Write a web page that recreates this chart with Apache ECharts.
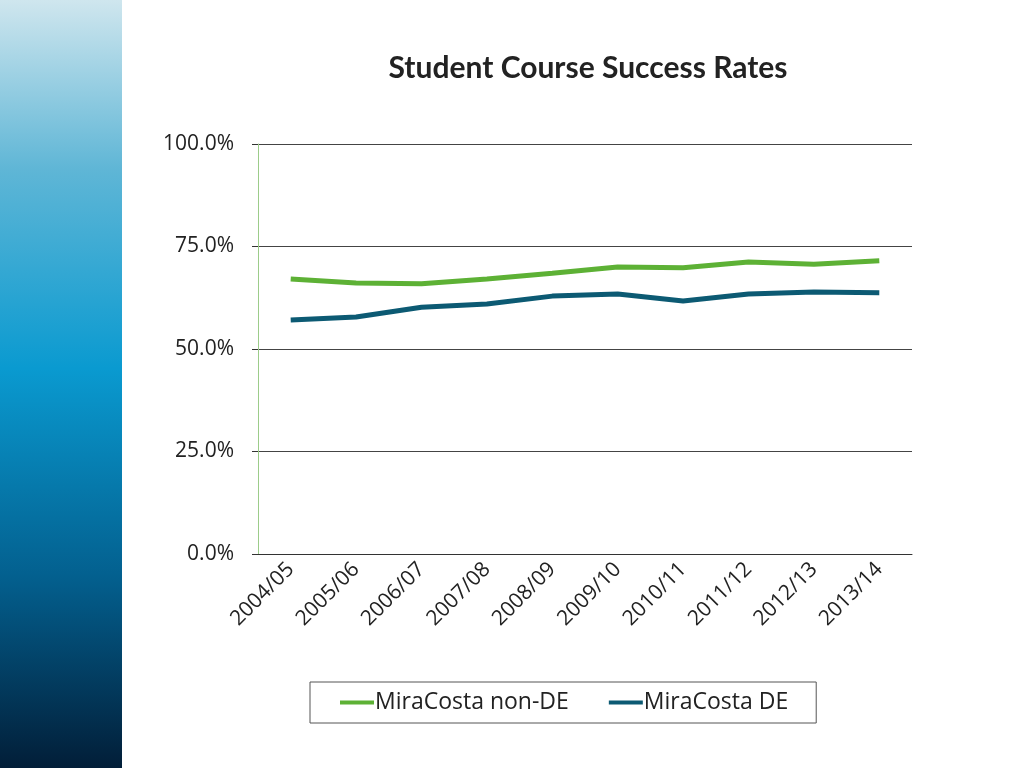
<!DOCTYPE html>
<html><head><meta charset="utf-8">
<script src="https://cdn.jsdelivr.net/npm/echarts@6/dist/echarts.min.js"></script>
<style>html,body{margin:0;padding:0;background:#fff}
#side{position:absolute;left:0;top:0;width:122px;height:768px;background:linear-gradient(#cfe6ee 0%,#5fb6d6 22%,#0a9ad0 48%,#03608f 75%,#021e38 100%)}
#c{position:absolute;left:0;top:0;width:1024px;height:768px}</style>
</head><body><div id="side"></div><div id="c"></div>
<script>
const categories=["2004/05","2005/06","2006/07","2007/08","2008/09","2009/10","2010/11","2011/12","2012/13","2013/14"];
const nonDE=[67.1,66.1,65.9,67.1,68.5,70.0,69.8,71.2,70.7,71.5];
const DE=[57.1,57.8,60.2,61.0,62.9,63.4,61.7,63.4,63.9,63.7];
const chart=echarts.init(document.getElementById('c'));
chart.setOption({
 title:{text:'Student Course Success Rates',left:583,textAlign:'center',top:48,textStyle:{fontFamily:'Lato',fontWeight:'bold',fontSize:30,color:'#222'}},
 grid:{left:258,right:112,top:144,bottom:214},
 legend:{left:310,top:682,height:45,padding:[9,28,9,30],itemGap:40,borderColor:'#555',borderWidth:1,itemWidth:34,itemHeight:4,
  textStyle:{fontFamily:'Open Sans',fontSize:23,color:'#222',padding:[0,0,0,-4]},icon:'rect'},
 xAxis:{type:'category',data:categories,boundaryGap:true,
  axisLine:{lineStyle:{color:'#333'}},axisTick:{length:6,lineStyle:{color:'#333'}},
  axisLabel:{rotate:45,fontFamily:'Open Sans',fontSize:21,color:'#222',margin:12}},
 yAxis:{type:'value',min:0,max:100,interval:25,
  axisLine:{show:true,lineStyle:{color:'#9ccc8a'}},axisTick:{show:true,length:6,lineStyle:{color:'#333'}},
  splitLine:{lineStyle:{color:'#444'}},
  axisLabel:{formatter:v=>v.toFixed(1)+'%',fontFamily:'Open Sans',fontSize:21,color:'#222',margin:24}},
 series:[
  {name:'MiraCosta non-DE',type:'line',data:nonDE,symbol:'none',lineStyle:{width:5,color:'#5db135'},itemStyle:{color:'#5db135'}},
  {name:'MiraCosta DE',type:'line',data:DE,symbol:'none',lineStyle:{width:5,color:'#0c5a73'},itemStyle:{color:'#0c5a73'}}
 ]
});
</script></body></html>
